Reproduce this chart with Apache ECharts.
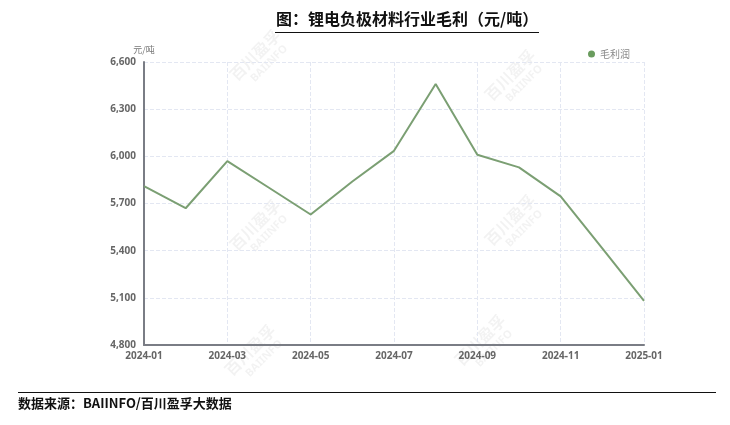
<!DOCTYPE html>
<html><head><meta charset="utf-8">
<script src="https://cdn.jsdelivr.net/npm/echarts@6/dist/echarts.min.js"></script>
<style>html,body{margin:0;padding:0;background:#fff}#c{width:730px;height:425px}</style>
</head><body><div id="c"></div>
<script>
const categories = ['2024-01','2024-02','2024-03','2024-04','2024-05','2024-06','2024-07','2024-08','2024-09','2024-10','2024-11','2024-12','2025-01'];
const grossProfit = [5810, 5670, 5970, 5800, 5630, 5840, 6035, 6460, 6010, 5930, 5745, 5415, 5080];
const seriesName = '毛利润';
const titleText = '图：锂电负极材料行业毛利（元/吨）';
const sourceText = '数据来源：BAIINFO/百川盈孚大数据';
const unitText = '元/吨';

const chart = echarts.init(document.getElementById('c'));
const wm = [];
[[255,225],[510,220],[255,55],[510,75],[480,340],[250,350]].forEach(p=>{
  wm.push({type:'group', x:p[0], y:p[1], rotation:Math.PI/4, silent:true, children:[
    {type:'text', style:{text:'百川盈孚', x:0, y:0, align:'center', verticalAlign:'middle', font:'bold 16px "Noto Sans CJK SC"', fill:'rgba(0,0,0,0.05)'}},
    {type:'text', style:{text:'BAIINFO', x:4, y:16, align:'center', verticalAlign:'middle', font:'bold 11px "Noto Sans"', fill:'rgba(0,0,0,0.05)'}}
  ]});
});
chart.setOption({
  animation:false,
  backgroundColor:'#fff',
  graphic:[
    {type:'text', left:276, top:11, style:{text:titleText, font:'bold 16px "Noto Sans CJK SC"', fill:'#111'}},
    {type:'line', shape:{x1:275, y1:32.5, x2:539, y2:32.5}, style:{stroke:'#111', lineWidth:1}},
    {type:'line', shape:{x1:18, y1:392.5, x2:716, y2:392.5}, style:{stroke:'#111', lineWidth:1}},
    {type:'text', left:18, top:397, style:{text:sourceText, font:'bold 13px "Noto Sans CJK SC"', fill:'#111'}},
    ...wm
  ],
  legend:{show:true, right:95, top:44, icon:'circle', itemWidth:7, itemHeight:7, itemGap:4,
    textStyle:{color:'#888', fontSize:10, fontFamily:'"Noto Sans CJK SC"'}, data:[seriesName]},
  grid:{left:144, right:86, top:62, bottom:80},
  xAxis:{type:'category', data:categories, boundaryGap:false,
    axisLine:{lineStyle:{color:'#7a7d85', width:2}},
    axisTick:{show:false},
    axisLabel:{interval:1, color:'#666', fontSize:10, fontWeight:'bold', margin:6, fontFamily:'"Noto Sans"'},
    splitLine:{show:true, interval:1, lineStyle:{color:'#e3e7f2', type:'dashed'}}},
  yAxis:{type:'value', min:4800, max:6600, interval:300,
    name:unitText, nameGap:8, nameTextStyle:{color:'#777', fontSize:9, align:'center', fontFamily:'"Noto Sans CJK SC"'},
    axisLine:{show:true, lineStyle:{color:'#7a7d85', width:2}},
    axisTick:{show:false},
    axisLabel:{color:'#666', fontSize:10, fontWeight:'bold', margin:8, fontFamily:'"Noto Sans"',
      formatter:v=>v.toLocaleString('en-US')},
    splitLine:{show:true, lineStyle:{color:'#e3e7f2', type:'dashed'}}},
  series:[{name:seriesName, type:'line', data:grossProfit, symbol:'none', smooth:false,
    lineStyle:{color:'#7b9f73', width:2}, itemStyle:{color:'#6a9c5e'}}]
});
</script></body></html>
